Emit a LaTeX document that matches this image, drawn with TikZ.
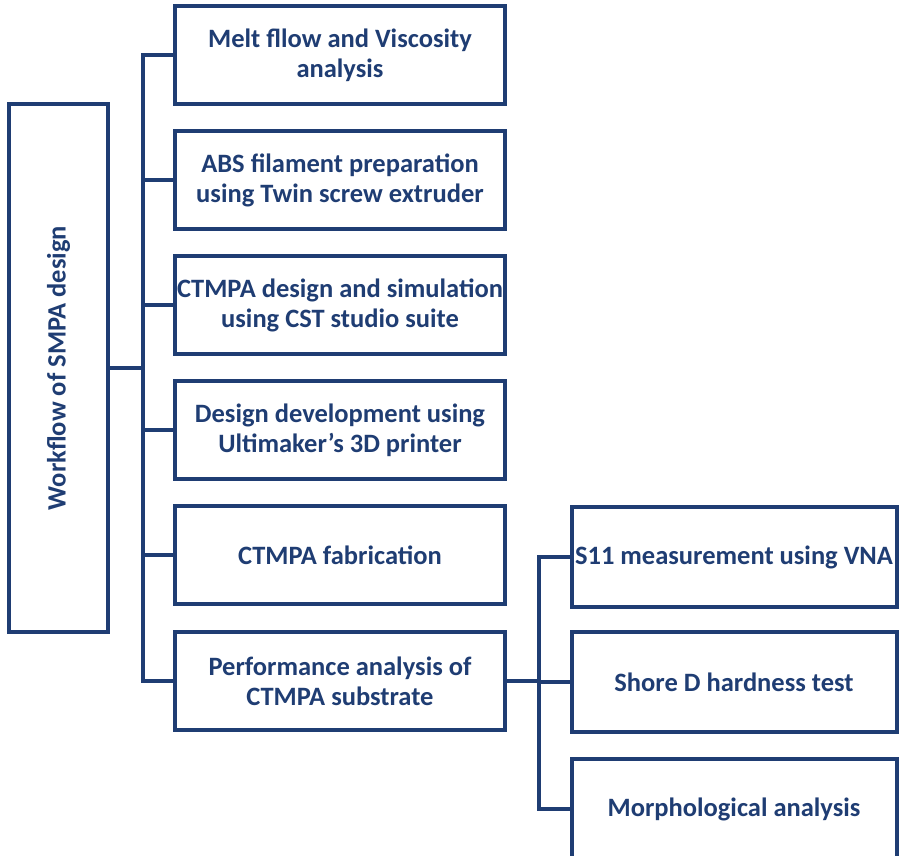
\documentclass[tikz,border=0pt]{standalone}
\usepackage{fontspec}
\setmainfont{Carlito}
\usetikzlibrary{positioning,calc}
\definecolor{navy}{HTML}{1F3D73}

\begin{document}
\begin{tikzpicture}[x=1pt, y=-1pt,
  box/.style={rectangle, draw=navy, line width=4pt, align=center, text=navy,
    font=\fontsize{26.5}{30}\selectfont\bfseries, inner sep=0pt,
    minimum width=330pt, minimum height=98pt},
  sub/.style={box, minimum width=325pt, minimum height=100pt},
  link/.style={draw=navy, line width=4pt, line join=miter},
]
\useasboundingbox (0,0) rectangle (899,856);

% === MAIN WORKFLOW ===
\node[box, minimum width=99pt, minimum height=527pt] (wf) at (58.5, 368)
  {\rotatebox{90}{Workflow of SMPA design}};

\node[box] (melt) at (340, 55)  {Melt fllow and Viscosity\\analysis};
\node[box] (abs)  at (340, 180) {ABS filament preparation\\using Twin screw extruder};
\node[box] (cst)  at (340, 305) {CTMPA design and simulation\\using CST studio suite};
\node[box] (prnt) at (340, 430) {Design development using\\Ultimaker’s 3D printer};
\node[box] (fab)  at (340, 555) {CTMPA fabrication};
\node[box] (perf) at (340, 681) {Performance analysis of\\CTMPA substrate};

% === PERFORMANCE TESTS ===
\node[sub] (s11)   at (734, 557) {S11 measurement using VNA};
\node[sub] (shore) at (734, 682) {Shore D hardness test};
\node[sub] (morph) at (734, 809) {Morphological analysis};

% trunk lines
\coordinate (trunk) at (142.5, 368);
\coordinate (branch) at (539, 681);

\draw[link] (wf.east) -- (trunk);
\draw[link] (melt.west) -| (trunk |- melt.west) -- (trunk |- perf.west) -- (perf.west);
\draw[link] (trunk |- abs.west) -- (abs.west);
\draw[link] (trunk |- cst.west) -- (cst.west);
\draw[link] (trunk |- prnt.west) -- (prnt.west);
\draw[link] (trunk |- fab.west) -- (fab.west);

\draw[link] (perf.east) -- (branch);
\draw[link] (s11.west) -- (branch |- s11.west) -- (branch |- morph.west) -- (morph.west);
\draw[link] (branch |- shore.west) -- (shore.west);
\end{tikzpicture}
\end{document}
